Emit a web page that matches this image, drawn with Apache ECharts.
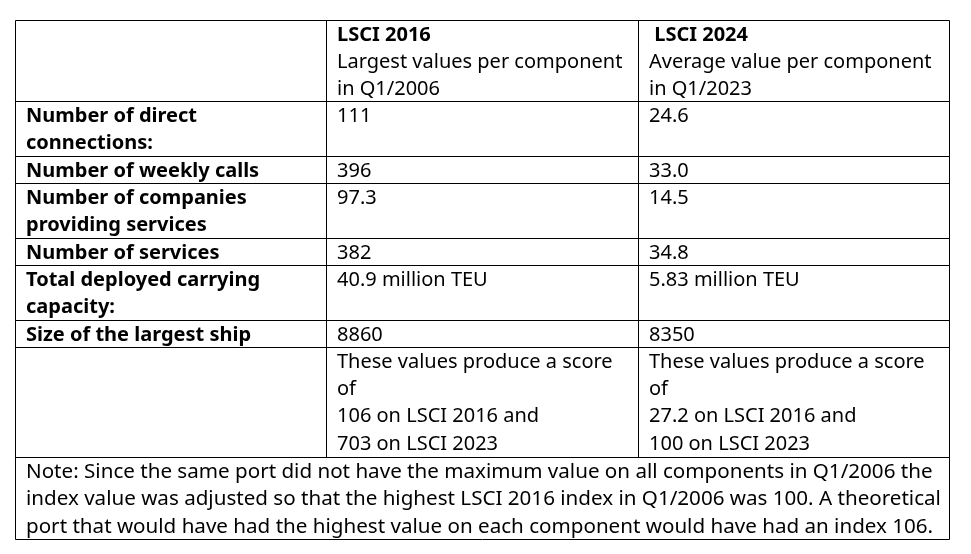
<!DOCTYPE html>
<html><head><meta charset="utf-8">
<script src="https://cdn.jsdelivr.net/npm/echarts@6/dist/echarts.min.js"></script>
<style>html,body{margin:0;padding:0;background:#fff}#c{width:971px;height:554px}</style>
</head><body><div id="c"></div>
<script>
// ---- data ----
const headers = [
  [],
  ["LSCI 2016", "Largest values per component", "in Q1/2006"],
  [" LSCI 2024", "Average value per component", "in Q1/2023"]
];
const rowLabels = [
  ["Number of direct", "connections:"],
  ["Number of weekly calls"],
  ["Number of companies", "providing services"],
  ["Number of services"],
  ["Total deployed carrying", "capacity:"],
  ["Size of the largest ship"],
  []
];
const lsci2016 = [
  ["111"], ["396"], ["97.3"], ["382"], ["40.9 million TEU"], ["8860"],
  ["These values produce a score", "of", "106 on LSCI 2016 and", "703 on LSCI 2023"]
];
const lsci2024 = [
  ["24.6"], ["33.0"], ["14.5"], ["34.8"], ["5.83 million TEU"], ["8350"],
  ["These values produce a score", "of", "27.2 on LSCI 2016 and", "100 on LSCI 2023"]
];
const noteLines = [
  "Note: Since the same port did not have the maximum value on all components in Q1/2006 the",
  "index value was adjusted so that the highest LSCI 2016 index in Q1/2006 was 100. A theoretical",
  "port that would have had the highest value on each component would have had an index 106."
];

// ---- build cells: [col, startLine, colSpan, lineCount] ----
const cells = [];
const cellText = [];
let line = 0;
function addRow(cols) {
  const n = Math.max.apply(null, cols.map(c => Math.max(1, c.lines.length)));
  cols.forEach((c, i) => {
    cells.push([i, line, 1, n]);
    cellText.push(c);
  });
  line += n;
}
addRow([
  { lines: headers[0], boldFirst: false },
  { lines: headers[1], boldFirst: true },
  { lines: headers[2], boldFirst: true }
]);
for (let r = 0; r < rowLabels.length; r++) {
  addRow([
    { lines: rowLabels[r], bold: true },
    { lines: lsci2016[r] },
    { lines: lsci2024[r] }
  ]);
}
cells.push([0, line, 3, noteLines.length]);
cellText.push({ lines: noteLines, note: true });
line += noteLines.length;
const totalLines = line;

const FONT = '"Noto Sans", sans-serif';
const FS = 20;

const chart = echarts.init(document.getElementById('c'), null, { renderer: 'canvas' });
chart.setOption({
  animation: false,
  grid: { left: 15, right: 22, top: 19.5, bottom: 15.5 },
  xAxis: { type: 'value', min: 0, max: 3, show: false },
  yAxis: { type: 'value', min: 0, max: totalLines, inverse: true, show: false },
  series: [{
    type: 'custom',
    coordinateSystem: 'cartesian2d',
    data: cells,
    renderItem: function (params, api) {
      const c = api.value(0), s = api.value(1), span = api.value(2), n = api.value(3);
      const p0 = api.coord([c, s]);
      const p1 = api.coord([c + span, s + n]);
      const lh = api.size([0, 1])[1];
      const t = cellText[params.dataIndex];
      const fs = t.note ? 20.6 : FS;
      let txt;
      if (t.boldFirst) {
        txt = t.lines.map((l, i) => i === 0 ? '{b|' + l + '}' : '{n|' + l + '}').join('\n');
      } else if (t.bold) {
        txt = t.lines.map(l => '{b|' + l + '}').join('\n');
      } else {
        txt = t.lines.map(l => '{n|' + l + '}').join('\n');
      }
      const x = Math.round(p0[0]) + 0.5, y = Math.round(p0[1]) + 0.5;
      const w = Math.round(p1[0]) - Math.round(p0[0]);
      const h = Math.round(p1[1]) - Math.round(p0[1]);
      return {
        type: 'group',
        children: [
          { type: 'rect', shape: { x: x, y: y, width: w, height: h },
            style: { fill: 'none', stroke: '#000', lineWidth: 1 } },
          { type: 'text', x: x + 10.5, y: y + 1,
            style: {
              text: txt, fill: '#000', align: 'left', verticalAlign: 'top',
              fontFamily: FONT, fontSize: fs,
              rich: {
                b: { fontFamily: FONT, fontSize: fs, fontWeight: 'bold', lineHeight: lh, fill: '#000' },
                n: { fontFamily: FONT, fontSize: fs, fontWeight: 'normal', lineHeight: lh, fill: '#000' }
              }
            } }
        ]
      };
    }
  }]
});
</script></body></html>
